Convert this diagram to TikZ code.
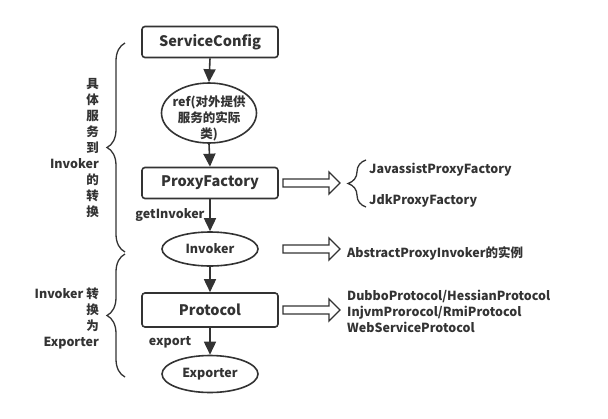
\documentclass[tikz,border=0pt]{standalone}
\usepackage{fontspec}
\setmainfont{Noto Sans CJK SC}
\usetikzlibrary{decorations.pathreplacing,arrows.meta,shapes.geometric}
\definecolor{ink}{HTML}{333333}
\begin{document}
\begin{tikzpicture}[x=1pt,y=-1pt,
  every node/.style={text=ink},
  boxnode/.style={draw=ink,line width=1.6pt,rounded corners=3pt,minimum width=136pt,minimum height=31pt,inner sep=0pt,font=\fontsize{14.5}{16}\selectfont\bfseries},
  ellnode/.style={draw=ink,line width=1.6pt,ellipse,inner sep=0pt,font=\fontsize{12.5}{16}\selectfont\bfseries,align=center},
  flow/.style={draw=ink,line width=1.6pt,-{Triangle[length=13pt,width=12pt]}},
  hollow/.style={draw=ink,line width=1.3pt,fill=white},
  bracestyle/.style={draw=ink,line width=1.3pt,decorate,decoration={brace,amplitude=18pt}},
  lbl/.style={font=\fontsize{12.5}{16}\selectfont\bfseries,inner sep=0pt},
]
\useasboundingbox (0,0) rectangle (608,418);
\fill[white] (0,0) rectangle (608,418);

\node[boxnode] (sc) at (210,42) {ServiceConfig};
\node[ellnode,minimum width=95pt,minimum height=60pt] (ref) at (209,113) {};
\node[lbl,align=center] (reft) at (209,118) {ref(对外提供\\服务的实际\\类)};
\node[boxnode] (pf) at (210,183) {ProxyFactory};
\node[ellnode,minimum width=96pt,minimum height=34pt] (inv) at (210,249) {Invoker};
\node[boxnode,minimum height=34pt] (pr) at (210,310) {Protocol};
\node[ellnode,minimum width=96pt,minimum height=37pt] (ex) at (210,374) {Exporter};

\draw[flow] (sc.south) -- (ref.north);
\draw[flow] (ref.south) -- (pf.north);
\draw[flow] (pf) -- (inv);
\draw[flow] (inv) -- (pr);
\draw[flow] (pr) -- (ex);

\node[lbl] (gi) at (170,215) {getInvoker};
\node[lbl] (exl) at (170,342) {export};

% left braces
\draw[bracestyle] (125,252) -- (125,43);
\draw[bracestyle] (125,377) -- (125,254);
\node[lbl,align=right,anchor=east] (l1) at (99,148) {具\\体\\服\\务\\到\\Invoker\\的\\转\\换};
\node[lbl,align=right,anchor=east] (l2) at (99,318) {Invoker 转\\换\\为\\Exporter};

% hollow arrows
\draw[hollow] (283,179) -- (329,179) -- (329,172) -- (340,183) -- (329,194) -- (329,187) -- (283,187) -- cycle;
\draw[hollow] (283,245) -- (329,245) -- (329,238) -- (340,249) -- (329,260) -- (329,253) -- (283,253) -- cycle;
\draw[hollow] (283,306) -- (329,306) -- (329,299) -- (340,310) -- (329,321) -- (329,314) -- (283,314) -- cycle;

% right brace
\draw[bracestyle] (366,207) -- (366,160);
\node[lbl,anchor=west] (jv) at (369,170) {JavassistProxyFactory};
\node[lbl,anchor=west] (jdk) at (369,201) {JdkProxyFactory};
\node[lbl,anchor=west] (api) at (347,253) {AbstractProxyInvoker的实例};
\node[lbl,anchor=west,align=left] (prl) at (347,311) {DubboProtocol/HessianProtocol\\InjvmProrocol/RmiProtocol\\WebServiceProtocol};
\end{tikzpicture}
\end{document}
